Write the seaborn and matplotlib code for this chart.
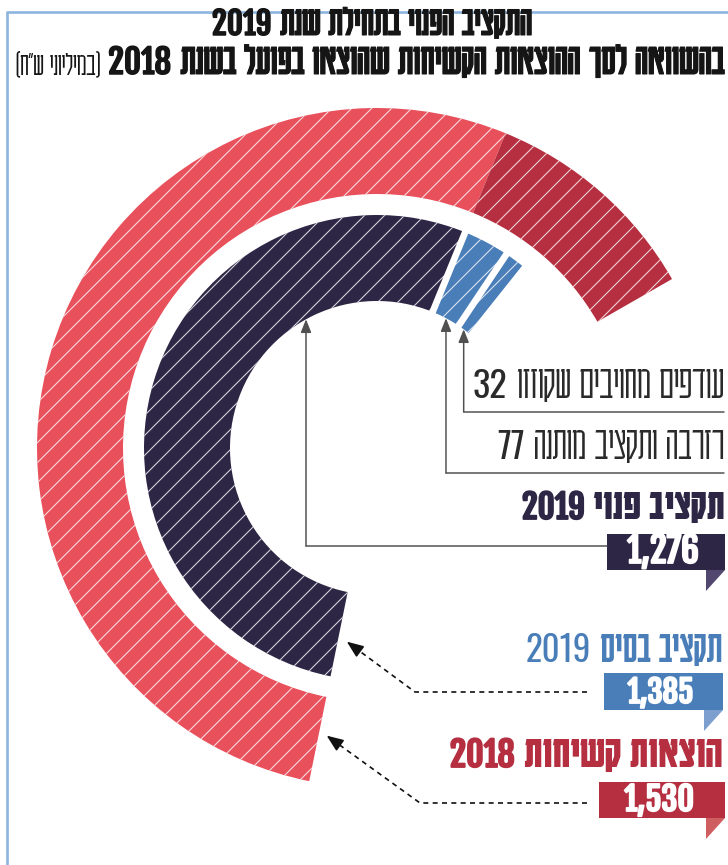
import re
import numpy as np
import matplotlib
matplotlib.use("Agg")
import matplotlib.pyplot as plt
import seaborn as sns
from matplotlib import font_manager as fm
from matplotlib import patheffects as pe
from matplotlib.font_manager import FontProperties
from matplotlib.textpath import TextPath
from matplotlib.lines import Line2D
from matplotlib.patches import Rectangle, Polygon
from matplotlib.transforms import Affine2D

# ---------------- data (millions NIS) ----------------
inner_labels = ["תקציב פנוי 2019", "רזרבה ותקציב מותנה", "עודפים מחויבים שקוזזו"]
inner_values = [1276, 77, 32]          # parts of the 2019 base budget
base_budget_2019 = 1385
rigid_spending_2018 = 1530

title_1 = ("התקציב הפנוי בתחילת שנת", "2019")
title_2 = ("בהשוואה לסך ההוצאות הקשיחות שהוצאו בפועל בשנת", "2018")
title_unit = '(במיליוני ש"ח)'
label_surplus = ("עודפים מחויבים שקוזזו", "32")
label_reserve = ("רזרבה ותקציב מותנה", "77")
label_free = ("תקציב פנוי", "2019")
label_base = ("תקציב בסיס", "2019")
label_rigid = ("הוצאות קשיחות", "2018")

# ---------------- style ----------------
sns.set_theme(style="white")
installed = {f.name for f in fm.fontManager.ttflist}


def first(cands):
    for c in cands:
        if c in installed:
            return c
    return "DejaVu Sans"


HEB = "Karantina" if "Karantina" in installed else "DejaVu Sans"
NUM_BOLD = first(["Fjalla One", "Oswald", "Roboto Condensed"])
NUM_REG = first(["Oswald", "Roboto Condensed", "Fjalla One"])
plt.rcParams["font.family"] = [HEB, "DejaVu Sans"]
plt.rcParams["hatch.linewidth"] = 0.65

pal = sns.color_palette(["#E8505B", "#B52F40", "#2E2645", "#4A7EB8"])
C_RED_L, C_RED_D, C_NAVY, C_BLUE = pal
C_RED_TRI, C_BLUE_TRI, C_NAVY_TRI = "#CE5E60", "#7C9FCF", "#52476E"
C_FRAME = "#8DB5DF"


def vis(s):
    """logical Hebrew -> visual (left-to-right) order, numbers kept LTR"""
    r = s[::-1]
    r = re.sub(r"[0-9][0-9,.]*", lambda m: m.group(0)[::-1], r)
    return r.translate(str.maketrans("()", ")("))


W, H, DPI = 728, 865, 120
fig = plt.figure(figsize=(W / DPI, H / DPI), dpi=DPI)
fig.patch.set_facecolor("white")
T_PX = Affine2D().scale(1, -1).translate(0, H)   # top-left pixel coords

# ---------------- radial bars ----------------
CX, CY, R_MAX = 377, 448, 340
ax = fig.add_axes([(CX - R_MAX) / W, 1 - (CY + R_MAX) / H, 2 * R_MAX / W, 2 * R_MAX / H],
                  projection="polar")
ax.set_theta_zero_location("N")
ax.set_theta_direction(-1)
ax.set_ylim(0, R_MAX)
ax.set_axis_off()
ax.patch.set_alpha(0)

THETA0 = -168.5                     # where both rings start (deg)
DEG_PER_UNIT = 228.7 / 1530         # angular scale
R_OUT_IN, R_OUT_W = 254, 86
R_IN_IN, R_IN_W = 147, 86

hatch_c = (1, 1, 1, 0.8)

# outer ring: 2018 rigid spending, split at the free-budget level
outer_parts = [inner_values[0], rigid_spending_2018 - inner_values[0]]
start = THETA0
for v, c in zip(outer_parts, [C_RED_L, C_RED_D]):
    ax.bar(np.deg2rad(start), R_OUT_W, width=np.deg2rad(v * DEG_PER_UNIT), bottom=R_OUT_IN,
           align="edge", color=c, hatch="//", edgecolor=hatch_c, linewidth=0, clip_on=False)
    start += v * DEG_PER_UNIT

# inner ring: 2019 base budget parts
inner_colors = [C_NAVY, C_BLUE, C_BLUE]
starts, mids = [], []
start = THETA0
for v, c in zip(inner_values, inner_colors):
    span = v * DEG_PER_UNIT
    ax.bar(np.deg2rad(start), R_IN_W, width=np.deg2rad(span), bottom=R_IN_IN,
           align="edge", color=c, hatch="//", edgecolor=hatch_c, linewidth=0, clip_on=False)
    starts.append(start)
    mids.append(start + span / 2)
    start += span
for b in starts[1:]:
    ax.plot([np.deg2rad(b)] * 2, [R_IN_IN - 3, R_IN_IN + R_IN_W + 3], color="white",
            lw=4.0, solid_capstyle="butt", clip_on=False, zorder=5)


def to_px(theta_deg, r):
    x, y = ax.transData.transform((np.deg2rad(theta_deg), r))
    return x, H - y


# ---------------- frame ----------------
fig.add_artist(Line2D([7, 7, 728], [865, 12, 12], transform=T_PX, color=C_FRAME, lw=1.6))

# ---------------- texts ----------------
renderer = fig.canvas.get_renderer()


def ink_h(s, fam, weight):
    tp = TextPath((0, 0), s, size=100, prop=FontProperties(family=fam, weight=weight))
    return tp.get_extents().height


def embolden(t, lw, color):
    if lw:
        t.set_path_effects([pe.withStroke(linewidth=lw, foreground=color)])


def put(x, y, s, width, ha="right", fam=HEB, stroke=0, **kw):
    t = fig.text(x, y, vis(s), transform=T_PX, ha=ha, va="baseline", fontsize=20,
                 family=[fam, "DejaVu Sans"], **kw)
    w = t.get_window_extent(renderer).width
    t.set_fontsize(20 * width / w)
    embolden(t, stroke, kw.get("color", "k"))
    return t


def label(x, y, heb, num, total_w, color, hw, nfam, nw, ha="right", num_k=1.04,
          gap_em=0.2, stroke_h=0, stroke_n=0):
    """Hebrew words with a number to their left (visual order), fitted to a width."""
    r = ink_h("ה", HEB, hw) / ink_h("0", nfam, nw) * num_k
    th = fig.text(0, 0, vis(heb), transform=T_PX, ha="right", va="baseline", fontsize=20,
                  family=[HEB, "DejaVu Sans"], fontweight=hw, color=color)
    tn = fig.text(0, 0, num, transform=T_PX, ha="right", va="baseline", fontsize=20 * r,
                  family=[nfam, "DejaVu Sans"], fontweight=nw, color=color)
    wh = th.get_window_extent(renderer).width
    wn = tn.get_window_extent(renderer).width
    gap = gap_em * 20 * DPI / 72
    k = total_w / (wh + wn + gap)
    th.set_fontsize(20 * k)
    tn.set_fontsize(20 * r * k)
    xr = x + total_w / 2 if ha == "center" else x
    th.set_position((xr, y))
    tn.set_position((xr - (wh + gap) * k, y))
    embolden(th, stroke_h, color)
    embolden(tn, stroke_n, color)


label(372, 35, *title_1, 320, "#151515", "normal", NUM_BOLD, "bold", ha="center",
      stroke_h=0.6, stroke_n=0.9)
label(724, 74, *title_2, 616, "#151515", "normal", NUM_BOLD, "bold",
      stroke_h=0.6, stroke_n=0.9)
put(16, 74, title_unit, 84, ha="left", color="#151515", fontweight="light")

label(724, 398, *label_surplus, 251, "#2a2a2a", "light", NUM_REG, "light")
label(724, 459, *label_reserve, 227, "#2a2a2a", "light", NUM_REG, "light")
label(724, 519, *label_free, 202, C_NAVY, "bold", NUM_BOLD, "bold", stroke_n=1.1)
label(722, 662, *label_base, 197, C_BLUE, "normal", NUM_REG, "normal")
label(722, 767, *label_rigid, 272, C_RED_D, "bold", NUM_BOLD, "bold", stroke_n=1.1)


def value_box(x0, y0, x1, y1, color, tri_color, value, text_w):
    fig.add_artist(Rectangle((x0, y0), x1 - x0, y1 - y0, transform=T_PX,
                             facecolor=color, edgecolor="none"))
    fig.add_artist(Polygon([(x1 - 19, y1), (x1, y1), (x1 - 19, y1 + 21)], closed=True,
                           transform=T_PX, facecolor=tri_color, edgecolor="none"))
    put((x0 + x1) / 2 - 3, y1 - 7, f"{value:,}", text_w, ha="center", fam=NUM_BOLD,
        color="white", fontweight="bold", stroke=1.1)


value_box(607, 534, 725, 570, C_NAVY, C_NAVY_TRI, inner_values[0], 72)
value_box(604, 673, 723, 710, C_BLUE, C_BLUE_TRI, base_budget_2019, 66)
value_box(599, 782, 725, 818, C_RED_D, C_RED_TRI, rigid_spending_2018, 70)

# ---------------- solid pointer lines ----------------
LINE_C = "#505050"
solid_head = dict(arrowstyle="-|>,head_length=0.55,head_width=0.22", color=LINE_C,
                  lw=0.9, shrinkA=0, shrinkB=0)

# free budget: from its box, up to the navy ring
x_free = 306
fig.add_artist(Line2D([x_free, 607], [546, 546], transform=T_PX, color=LINE_C, lw=0.9))
dy = np.sqrt(R_IN_IN ** 2 - (x_free - CX) ** 2)
th_free = np.rad2deg(np.arctan2(x_free - CX, dy))
ax.annotate("", xy=(np.deg2rad(th_free), R_IN_IN), xycoords="data",
            xytext=(x_free, 546), textcoords=T_PX, arrowprops=solid_head,
            annotation_clip=False)

# reserve and surplus: to the middle of their segments
for mid, y_line in zip(mids[1:], [473, 412]):
    tx, ty = to_px(mid, R_IN_IN)
    fig.add_artist(Line2D([tx, 724], [y_line, y_line], transform=T_PX, color=LINE_C, lw=0.9))
    ax.annotate("", xy=(np.deg2rad(mid), R_IN_IN), xycoords="data",
                xytext=(tx, y_line), textcoords=T_PX, arrowprops=solid_head,
                annotation_clip=False)

# ---------------- dashed pointers to ring starts ----------------
for (r_mid, gap, y_line, x_break) in [(196, 9, 692, 415), (292, 8, 803, 420)]:
    tip_th = THETA0 - np.rad2deg(gap / r_mid)
    tx, ty = to_px(tip_th, r_mid)
    d = np.array([tx - x_break, ty - y_line])
    d = d / np.hypot(*d)
    bx, by = tx - 11 * d[0], ty - 11 * d[1]
    fig.add_artist(Line2D([587, x_break, bx], [y_line, y_line, by], transform=T_PX,
                          color="#111111", lw=1.0, dashes=(3, 2.6)))
    ax.annotate("", xy=(np.deg2rad(tip_th), r_mid), xycoords="data",
                xytext=(bx, by), textcoords=T_PX,
                arrowprops=dict(arrowstyle="-|>,head_length=0.7,head_width=0.28",
                                color="#111111", lw=1.0, shrinkA=0, shrinkB=0),
                annotation_clip=False)

fig.savefig("out.png", dpi=DPI, facecolor="white")
